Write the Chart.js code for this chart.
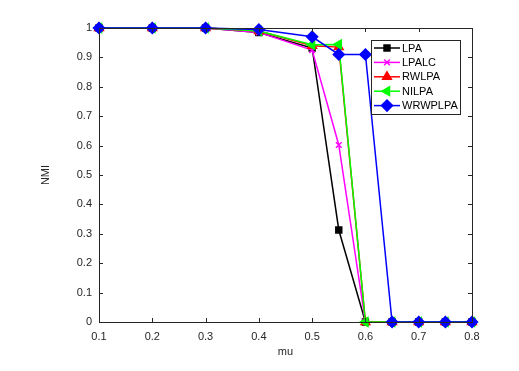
<!DOCTYPE html>
<html>
<head>
<meta charset="utf-8">
<script src="https://cdn.jsdelivr.net/npm/chart.js@4.4.0/dist/chart.umd.min.js"></script>
<style>
  body { margin: 0; background: #fff; }
  #wrap { width: 519px; height: 371px; }
</style>
</head>
<body>
<div id="wrap"><canvas id="c"></canvas></div>
<script>
'use strict';

/* ── Dados ── */
const mu      = [0.1, 0.2, 0.3, 0.4, 0.5, 0.55, 0.6, 0.65, 0.7, 0.75, 0.8];
const lpa     = [1, 1, 1, 0.985, 0.932, 0.313, 0, 0, 0, 0, 0];
const lpalc   = [1, 1, 1, 0.985, 0.925, 0.602, 0, 0, 0, 0, 0];
const rwlpa   = [1, 1, 1, 0.99, 0.94, 0.935, 0, 0, 0, 0, 0];
const nilpa   = [1, 1, 1, 0.99, 0.943, 0.944, 0, 0, 0, 0, 0];
const wrwplpa = [1, 1, 1, 0.995, 0.97, 0.91, 0.91, 0, 0, 0, 0];

const seriesNames = ['LPA', 'LPALC', 'RWLPA', 'NILPA', 'WRWPLPA'];
const seriesData  = [lpa, lpalc, rwlpa, nilpa, wrwplpa];
const colors      = ['#000000', '#ff00ff', '#ff0000', '#00ff00', '#0000ff'];
const styles      = ['rect', 'crossRot', 'triangle', 'triangle', 'rectRot'];
const rotations   = [0, 0, 0, -90, 0];
const radii       = [4.2, 4, 5, 5, 5.5];

const AXIS = '#262626';
const FONT = { family: 'Liberation Sans, Arial, sans-serif', size: 11 };

/* Caixa + ticks internos estilo MATLAB */
const boxTicks = {
  id: 'boxTicks',
  afterDatasetsDraw(chart) {
    const { ctx, chartArea: a, scales } = chart;
    ctx.save();
    ctx.strokeStyle = AXIS;
    ctx.lineWidth = 1;
    ctx.beginPath();
    scales.x.ticks.forEach(t => {
      const px = Math.round(scales.x.getPixelForValue(t.value)) + 0.5;
      ctx.moveTo(px, a.bottom); ctx.lineTo(px, a.bottom - 4);
      ctx.moveTo(px, a.top);    ctx.lineTo(px, a.top + 4);
    });
    scales.y.ticks.forEach(t => {
      const py = Math.round(scales.y.getPixelForValue(t.value)) + 0.5;
      ctx.moveTo(a.left, py);  ctx.lineTo(a.left + 4, py);
      ctx.moveTo(a.right, py); ctx.lineTo(a.right - 4, py);
    });
    ctx.stroke();
    ctx.strokeRect(Math.round(a.left) + 0.5, Math.round(a.top) + 0.5,
                   Math.round(a.right - a.left), Math.round(a.bottom - a.top));
    ctx.restore();
  },
};

/* Legenda desenhada dentro da área do gráfico */
const insideLegend = {
  id: 'insideLegend',
  afterDraw(chart) {
    const { ctx, chartArea: a } = chart;
    const left = a.right - 101, top = a.top + 12, w = 89, h = 74;
    ctx.save();
    ctx.fillStyle = '#fff';
    ctx.fillRect(left, top, w, h);
    ctx.strokeStyle = AXIS;
    ctx.lineWidth = 1;
    ctx.strokeRect(left + 0.5, top + 0.5, w, h);
    ctx.font = `${FONT.size}px ${FONT.family}`;
    ctx.textBaseline = 'middle';
    seriesNames.forEach((name, i) => {
      const y = top + 8 + i * 14.4;
      ctx.strokeStyle = colors[i];
      ctx.lineWidth = 1.5;
      ctx.beginPath();
      ctx.moveTo(left + 3, y); ctx.lineTo(left + 29, y);
      ctx.stroke();
      ctx.fillStyle = colors[i];
      Chart.helpers.drawPoint(ctx, {
        pointStyle: styles[i], radius: radii[i], rotation: rotations[i], borderWidth: 1.5,
      }, left + 16, y);
      ctx.fillStyle = '#000';
      ctx.fillText(name, left + 31, y + 0.5);
    });
    ctx.restore();
  },
};

new Chart(document.getElementById('c'), {
  type: 'line',
  data: {
    datasets: seriesNames.map((name, i) => ({
      label: name,
      data: mu.map((x, k) => ({ x, y: seriesData[i][k] })),
      borderColor: colors[i],
      backgroundColor: colors[i],
      borderWidth: 1.5,
      pointStyle: styles[i],
      pointRotation: rotations[i],
      pointRadius: radii[i],
      pointBorderWidth: 1.5,
      pointBorderColor: colors[i],
      pointBackgroundColor: colors[i],
      tension: 0,
      fill: false,
      clip: false,
      order: seriesNames.length - i,
    })),
  },
  options: {
    responsive: true,
    maintainAspectRatio: false,
    animation: false,
    events: [],
    layout: { padding: { top: 28, right: 47, left: 0, bottom: 0 } },
    plugins: { legend: { display: false }, tooltip: { enabled: false } },
    scales: {
      x: {
        type: 'linear', min: 0.1, max: 0.8,
        grid: { display: false, drawTicks: false },
        border: { display: false },
        ticks: { stepSize: 0.1, padding: 8, color: AXIS, font: FONT, maxRotation: 0,
                 callback: v => v.toFixed(1) },
        title: { display: true, text: 'mu', color: AXIS, font: FONT, padding: { top: 0, bottom: 12 } },
        afterFit: s => { s.height = 49; },
      },
      y: {
        min: 0, max: 1,
        grid: { display: false, drawTicks: false },
        border: { display: false },
        ticks: { stepSize: 0.1, padding: 7, color: AXIS, font: FONT,
                 callback: v => (v === 0 ? '0' : Math.abs(v - 1) < 1e-9 ? '1' : v.toFixed(1)) },
        title: { display: true, text: 'NMI', color: AXIS, font: FONT, padding: { top: 39, bottom: 0 } },
        afterFit: s => { s.width = 99; },
      },
    },
  },
  plugins: [boxTicks, insideLegend],
});
</script>
</body>
</html>
